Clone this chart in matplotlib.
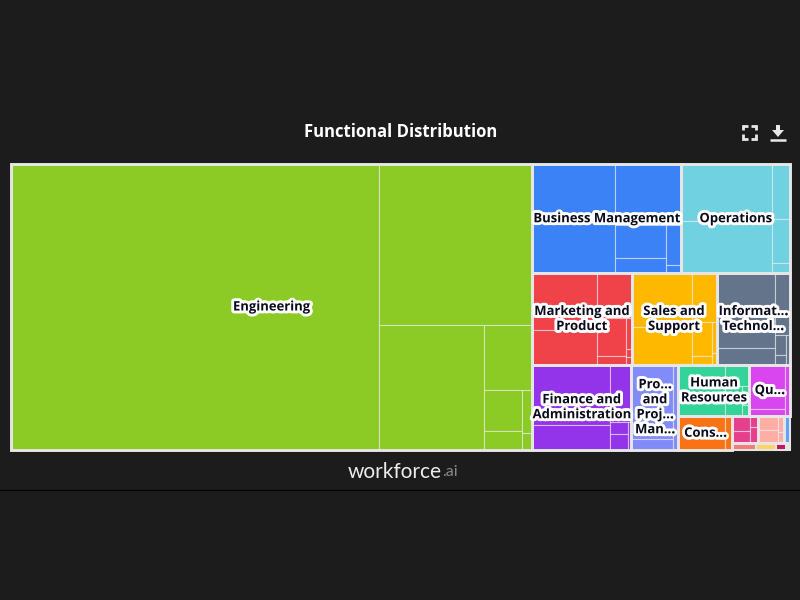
import matplotlib
matplotlib.use('Agg')
import matplotlib.pyplot as plt
import matplotlib.patches as patches
import matplotlib.patheffects as pe

# valori (area delle celle)
engineering = [105248, 24710, 13135, 3064, 1577, 703, 409, 162]
business = [4565, 4524, 4056, 1667, 783, 648, 128]
operations = [5159, 4751, 990, 792, 189]
marketing = [3673, 2243, 1535, 1102, 247, 171, 44, 41]
sales = [3237, 2269, 1188, 680, 170, 140, 52]
information = [4358, 965, 922, 220, 105, 118]
finance = [4719, 1950, 1236, 216, 288, 98]
program = [3092, 457, 360, 110]
human_resources = [1418, 1000, 527, 518, 143, 86]
quality = [1580, 266, 260]
consulting = [1558, 251]
pink_group = [254, 219, 84, 132]
peach_group = [270, 270, 93, 69]
blue_group = [162]
salmon_group = [153]
yellow_group = [130]
crimson_group = [65]
last_group = [26]

groups = [engineering, business, operations, marketing, sales, information, finance, program,
          human_resources, quality, consulting, pink_group, peach_group, blue_group,
          salmon_group, yellow_group, crimson_group, last_group]

labels = ['Engineering', 'Business Management', 'Operations', 'Marketing and\nProduct',
          'Sales and\nSupport', 'Informat...\nTechnol...', 'Finance and\nAdministration',
          'Pro...\nand\nProj...\nMan...', 'Human\nResources', 'Qu...', 'Cons...',
          '', '', '', '', '', '', '']

colors = ['#8CCA25', '#3B82F6', '#70D1E0', '#F04349', '#FFB800', '#64748B', '#9333EA', '#818CF8',
          '#34D399', '#D946EF', '#F97316', '#E53F8E', '#FFAEA6', '#60A5FA', '#F47C7C', '#FFD166',
          '#C2185B', '#E4E4E4']

# come si dividono le celle: 'h' affiancate, 'v' impilate
top_split = ('h', [0, ('v', [('h', [1, 2]),
                             ('h', [3, 4, 5]),
                             ('h', [6, 7, ('v', [('h', [8, 9]),
                                                 ('h', [10, ('v', [('h', [11, 12, 13]),
                                                                   ('h', [14, 15, 16, 17])])])])])])])
inner_splits = [
    ('h', [0, ('v', [1, ('h', [2, ('v', [3, ('h', [('v', [4, 5]), ('v', [6, 7])])])])])]),
    ('h', [('v', [0, 1]), ('v', [2, ('h', [('v', [3, 4]), ('v', [5, 6])])])]),
    ('h', [('v', [0, 1]), ('v', [2, 3, 4])]),
    ('h', [('v', [0, 1]), ('v', [2, ('h', [('v', [3, 4]), ('v', [5, 6, 7])])])]),
    ('h', [('v', [0, 1]), ('v', [2, ('h', [('v', [3, 4]), ('v', [5, 6])])])]),
    ('h', [('v', [0, 1]), ('v', [2, ('h', [('v', [3, 4]), 5])])]),
    ('h', [('v', [0, 1]), ('v', [2, ('h', [('v', [3, 4]), 5])])]),
    ('h', [('v', [0, 1]), ('v', [2, 3])]),
    ('h', [('v', [0, 1]), ('v', [2, ('h', [3, ('v', [4, 5])])])]),
    ('h', [('v', [0, 1]), 2]),
    ('h', [0, 1]),
    ('h', [('v', [0, 1]), ('v', [2, 3])]),
    ('h', [('v', [0, 1]), ('v', [2, 3])]),
    0, 0, 0, 0, 0,
]


def node_total(node, weights):
    if isinstance(node, int):
        return weights[node]
    return sum(node_total(c, weights) for c in node[1])


# Divide il rettangolo in proporzione ai valori
def layout(node, weights, x, y, w, h, out):
    if isinstance(node, int):
        out[node] = (x, y, w, h)
        return
    total = node_total(node, weights)
    for child in node[1]:
        share = node_total(child, weights) / total
        if node[0] == 'h':
            layout(child, weights, x, y, w * share, h, out)
            x += w * share
        else:
            layout(child, weights, x, y, w, h * share, out)
            y += h * share


fig = plt.figure(figsize=(8, 6), dpi=100, facecolor='#1C1C1C')
ax = fig.add_axes([0, 0, 1, 1])
ax.set_xlim(0, 800)
ax.set_ylim(600, 0)
ax.axis('off')

group_totals = [sum(g) for g in groups]
group_rects = {}
layout(top_split, group_totals, 11, 164, 779, 286, group_rects)

border = '#E6E6E6'
for i, group in enumerate(groups):
    gx, gy, gw, gh = group_rects[i]
    cells = {}
    layout(inner_splits[i], group, gx, gy, gw, gh, cells)
    for cx, cy, cw, ch in cells.values():
        ax.add_patch(patches.Rectangle((cx, cy), cw, ch, facecolor=colors[i],
                                       edgecolor=(1, 1, 1, 0.55), linewidth=0.8))

for i in range(len(groups)):
    gx, gy, gw, gh = group_rects[i]
    lw = 2.1 if gw > 8 and gh > 8 else 1.4
    ax.add_patch(patches.Rectangle((gx, gy), gw, gh, fill=False, edgecolor=border, linewidth=lw))

stroke = [pe.withStroke(linewidth=4.2, foreground='white')]
for i, label in enumerate(labels):
    if label:
        gx, gy, gw, gh = group_rects[i]
        ax.text(gx + gw / 2, gy + gh / 2, label, ha='center', va='center', color='#0B0B1E',
                fontsize=9.4, fontweight='bold', family='Open Sans', linespacing=1.2,
                path_effects=stroke)

ax.text(400.5, 132, 'Functional Distribution', ha='center', va='center', color='white',
        fontsize=12, fontweight='bold', family='Open Sans')

# icona schermo intero
ico = dict(color='#E8E8E8', linewidth=2.0, solid_capstyle='butt', solid_joinstyle='miter')
ax.plot([743, 743, 748], [130, 126, 126], **ico)
ax.plot([751, 756, 756], [126, 126, 130], **ico)
ax.plot([743, 743, 748], [134, 139, 139], **ico)
ax.plot([751, 756, 756], [139, 139, 134], **ico)
# icona download
ax.add_patch(patches.Polygon([(776, 125), (780, 125), (780, 130), (784, 130), (778, 137), (772, 130),
                              (776, 130)], closed=True, color='#E8E8E8', linewidth=0))
ax.plot([770, 786], [139.5, 139.5], color='#E8E8E8', linewidth=1.8, solid_capstyle='butt')

# logo
ax.text(442, 472, 'workforce', ha='right', va='center', color='#EDEDED', fontsize=15, family='Lato')
ax.text(442, 472.5, '.ai', ha='left', va='center', color='#8A8A8A', fontsize=11.5, family='Lato')

ax.plot([0, 800], [489.5, 489.5], color='#050505', linewidth=0.9)

fig.savefig('out.png', dpi=100, facecolor=fig.get_facecolor())
